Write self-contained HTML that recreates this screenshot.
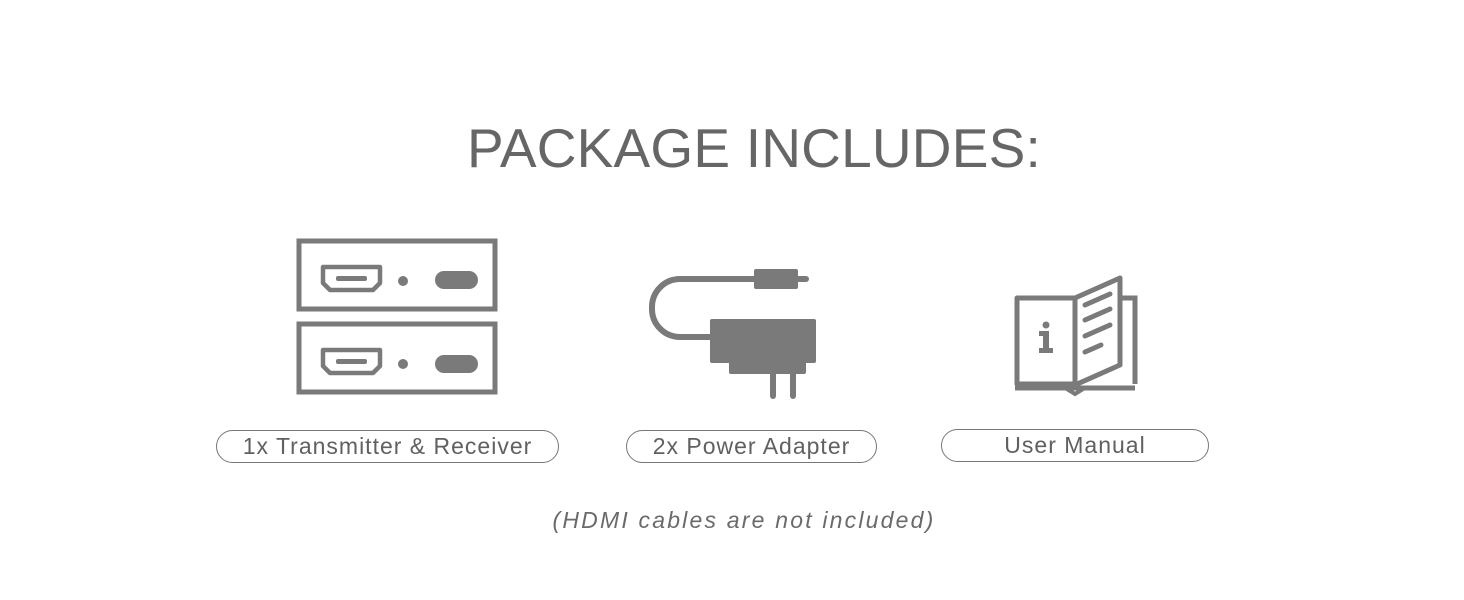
<!DOCTYPE html>
<html><head><style>
body{margin:0;width:1464px;height:600px;background:#fff;position:relative;overflow:hidden;font-family:"Liberation Sans",sans-serif;color:#666}
.t{position:absolute;left:0;width:1464px;text-align:center}
.lab{position:absolute;border:1.5px solid #777;border-radius:17px;box-sizing:border-box;text-align:center;font-size:23px;line-height:30px;color:#606060;letter-spacing:1px}
</style></head><body>
<div class="t" style="top:116px;left:22px;font-size:55px;letter-spacing:0.2px;color:#666">PACKAGE INCLUDES:</div>
<svg width="1464" height="600" style="position:absolute;left:0;top:0">
<g fill="none" stroke="#7a7a7a" stroke-width="5">
<rect x="299" y="241" width="196" height="68"/>
<rect x="299" y="324" width="196" height="68"/>
<path d="M323 267h57v16l-7 7h-43l-7-7z" stroke-width="4.5" stroke-linejoin="round"/>
<path d="M323 350h57v16l-7 7h-43l-7-7z" stroke-width="4.5" stroke-linejoin="round"/>
<path d="M756 279H680a28 28 0 0 0-28 28v2a28 28 0 0 0 28 28h32" stroke-width="6"/>
<path d="M1017 298h58v86h-58z M1075 298l45-20v87l-45 20" stroke-width="5" stroke-linejoin="round"/>
<path d="M1120 298h15v86" stroke-width="5"/>
<path d="M1015 388h120" stroke-width="5"/>
<path d="M1067 389l8 5l8-5" stroke-width="4"/>
<path d="M1085 305l25-11M1085 320l25-11M1085 336l25-11M1085 352l16-7" stroke-width="5" stroke-linecap="round"/>
</g>
<g fill="#7a7a7a">
<rect x="336" y="276" width="31" height="5" rx="2"/>
<rect x="336" y="359" width="31" height="5" rx="2"/>
<circle cx="403" cy="281" r="5"/><circle cx="403" cy="364" r="5"/>
<rect x="435" y="271" width="43" height="18" rx="9"/>
<rect x="435" y="355" width="43" height="18" rx="9"/>
<rect x="754" y="269" width="44" height="20" rx="2"/>
<rect x="796" y="276" width="13" height="6" rx="3"/>
<rect x="710" y="319" width="106" height="44" rx="2"/>
<rect x="729" y="360" width="77" height="14" rx="2"/>
<rect x="770" y="370" width="6" height="29" rx="3"/>
<rect x="790" y="370" width="6" height="29" rx="3"/>
<circle cx="1046" cy="325" r="3.5"/>
<path d="M1039 331h10v17h4v5h-14v-5h4v-12h-4z"/>
</g>
</svg>
<div class="lab" style="left:216px;top:430px;width:343px;height:33px">1x Transmitter &amp; Receiver</div>
<div class="lab" style="left:626px;top:430px;width:251px;height:33px">2x Power Adapter</div>
<div class="lab" style="left:941px;top:429px;width:268px;height:33px">User Manual</div>
<div class="t" style="top:507px;left:12px;font-size:23px;font-style:italic;color:#6a6a6a;letter-spacing:2.2px">(HDMI cables are not included)</div>
</body></html>
